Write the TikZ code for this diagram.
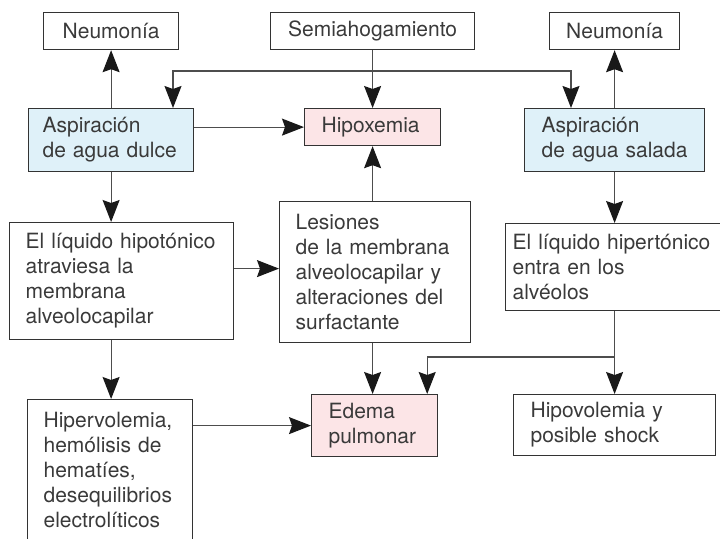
\documentclass[tikz,border=0pt]{standalone}
\usepackage{fontspec}
\setmainfont{TeX Gyre Heros}
\usepackage{xcolor}
\usepackage{tikz}
\usetikzlibrary{arrows.meta, calc}

\definecolor{linegray}{HTML}{4D4D4D}
\definecolor{boxline}{HTML}{333333}
\definecolor{textgray}{HTML}{3A3A3A}
\definecolor{waterblue}{HTML}{DFF1F9}
\definecolor{alertpink}{HTML}{FCE5E7}

\begin{document}
\begin{tikzpicture}[x=1pt, y=-1pt,
  box/.style={draw=boxline, line width=1.2pt, anchor=north west, align=left, inner ysep=0pt, inner xsep=16pt, text=textgray, font=\fontsize{21}{25}\selectfont},
  topbox/.style={box, align=center, minimum height=37pt},
  water/.style={box, fill=waterblue},
  result/.style={box, fill=alertpink},
  link/.style={draw=linegray, line width=1.2pt, -{Stealth[length=22pt, width=17pt, inset=3pt, color=black!90]}}
]
  \useasboundingbox (0,0) rectangle (720,538);
  \clip (0,0) rectangle (720,538);

  % Top row
  \node[topbox, text width=103pt] (neuL) at (43,12) {Neumonía};
  \node[topbox, text width=172pt] (semi) at (270,12) {Semiahogamiento};
  \node[topbox, text width=98pt] (neuR) at (549,12) {Neumonía};

  % Aspiration
  \node[water, inner xsep=14pt, text width=137pt, minimum height=63pt] (dulce) at (28,108) {Aspiración\\de~agua~dulce};
  \node[result, inner xsep=17pt, text width=102pt, minimum height=37pt] (hipox) at (304,108) {Hipoxemia};
  \node[water, inner xsep=17pt, text width=146pt, minimum height=63pt] (salada) at (524,108) {Aspiración\\de~agua~salada};

  % Middle row
  \node[box, text width=192pt, minimum height=117pt] (hipot) at (9,222) {El~líquido~hipotónico\\atraviesa la\\membrana\\alveolocapilar};
  \node[box, text width=159pt, minimum height=141pt] (lesion) at (279,201) {Lesiones\\de~la~membrana\\alveolocapilar~y\\alteraciones~del\\surfactante};
  \node[box, inner xsep=7pt, text width=216pt, minimum height=87pt] (hiper) at (505,223) {El~líquido~hipertónico\\entra en los\\alvéolos};

  % Bottom row
  \node[box, inner ysep=13pt, text width=133pt] (hipervol) at (27,399) {Hipervolemia,\\hemólisis de\\hematíes,\\desequilibrios\\electrolíticos};
  \node[result, inner xsep=17pt, text width=92pt, minimum height=62pt] (edema) at (311,394) {Edema\\pulmonar};
  \node[box, inner xsep=17pt, text width=168pt, minimum height=61pt] (hipovol) at (513,394) {Hipovolemia~y\\posible~shock};

  % Semiahogamiento
  \coordinate (fork) at (semi.south |- 0,71);
  \draw[link] (semi.south) -- (hipox.north);
  \draw[link] (fork) -| ($(dulce.north west)+(145,0)$);
  \draw[link] (fork) -| ($(salada.north west)+(47,0)$);

  % Fresh water
  \draw[link] (dulce.north) -- (neuL.south);
  \draw[link] (dulce.east |- hipox.west) -- (hipox.west);
  \draw[link] (dulce.south) -- (dulce.south |- hipot.north);
  \coordinate (hipot2les) at ($(hipot.east)+(0,-12.5)$);
  \draw[link] (hipot2les) -- (hipot2les -| lesion.west);
  \draw[link] (hipot.south -| dulce.south) -- (hipervol.north -| dulce.south);
  \draw[link] (hipervol.east |- edema.west) -- (edema.west);

  % Lesions
  \draw[link] (lesion.north -| hipox.south) -- (hipox.south);
  \draw[link] (lesion.south -| hipox.south) -- (edema.north -| hipox.south);

  % Salt water
  \draw[link] (salada.north) -- (neuR.south);
  \draw[link] (salada.south) -- (salada.south |- hiper.north);
  \coordinate (split) at (salada.south |- 0,357);
  \draw[link] (hiper.south -| salada.south) -- (hipovol.north);
  \draw[link] (split) -| ($(edema.north east)+(-11,0)$);

\end{tikzpicture}
\end{document}
